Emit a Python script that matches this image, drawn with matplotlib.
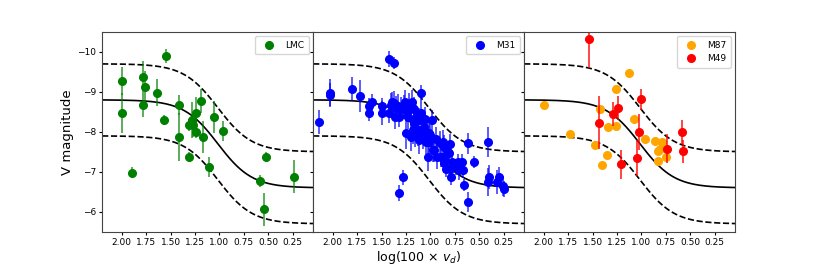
import numpy as np
import matplotlib
matplotlib.use("Agg")
import matplotlib.pyplot as plt

# LMC clusters
lmc_x = [2.00, 2.00, 1.89, 1.78, 1.76, 1.78, 1.64, 1.57, 1.55, 1.41, 1.41, 1.31, 1.31,
         1.28, 1.27, 1.24, 1.24, 1.19, 1.17, 1.11, 1.06, 0.96, 0.58, 0.52, 0.54, 0.24]
lmc_v = [-9.28, -8.48, -6.98, -9.38, -9.13, -8.68, -8.98, -8.29, -9.89, -8.68, -7.88, -7.38, -8.18,
         -8.29, -8.18, -8.48, -7.99, -8.78, -7.88, -7.12, -8.38, -8.03, -6.78, -7.38, -6.06, -6.88]
lmc_err = [0.35, 0.5, 0.13, 0.4, 0.4, 0.3, 0.33, 0.12, 0.18, 0.25, 0.6, 0.12, 0.15,
           0.45, 0.3, 0.4, 0.15, 0.3, 0.4, 0.25, 0.4, 0.25, 0.15, 0.12, 0.42, 0.42]

# M31 clusters
m31_x = [2.14, 2.03, 2.03, 1.80, 1.72, 1.63, 1.60, 1.63, 1.42, 1.37, 1.50, 1.50, 1.42, 1.40,
         1.37, 1.36, 1.33, 1.32, 1.30, 1.28, 1.32, 1.26, 1.25, 1.23, 1.22, 1.20, 1.19, 1.17,
         1.17, 1.15, 1.13, 1.12, 1.10, 1.10, 1.08, 1.06, 1.05, 1.03, 1.01, 1.00, 0.98, 0.97,
         0.94, 0.93, 0.90, 0.87, 0.86, 0.85, 0.84, 0.81, 0.80, 0.79, 0.78, 0.72, 0.71, 0.68,
         0.67, 0.66, 0.62, 0.62, 0.55, 0.41, 0.41, 0.40, 0.32, 0.30, 0.26, 0.25,
         1.39, 1.35, 1.27, 1.24, 1.18, 1.16, 1.12, 1.07, 1.04, 1.01, 0.96, 0.89, 0.86, 0.82,
         0.80, 0.74]
m31_v = [-8.25, -8.98, -8.92, -9.06, -8.90, -8.64, -8.75, -8.46, -9.81, -9.71, -8.64, -8.46, -8.46, -8.67,
         -8.73, -8.38, -8.64, -8.36, -8.56, -6.86, -6.46, -8.75, -7.96, -8.38, -8.67, -7.88, -8.75, -8.56,
         -8.21, -8.38, -8.04, -7.79, -8.96, -8.46, -7.92, -8.33, -7.75, -7.38, -7.96, -7.92, -8.29, -7.54,
         -7.83, -7.38, -7.71, -7.75, -7.63, -7.29, -7.08, -7.46, -7.08, -6.88, -7.25, -7.25, -7.04, -7.25,
         -7.04, -6.67, -7.71, -6.25, -7.25, -7.75, -6.75, -6.86, -6.75, -6.86, -6.64, -6.56,
         -8.75, -8.60, -8.62, -8.50, -8.04, -7.92, -8.30, -8.13, -7.96, -7.75, -7.54, -7.38, -7.21, -7.50,
         -7.70, -7.13]
m31_err = [0.3, 0.33, 0.3, 0.3, 0.4, 0.2, 0.2, 0.2, 0.2, 0.15, 0.2, 0.3, 0.25, 0.3,
           0.3, 0.3, 0.3, 0.25, 0.3, 0.18, 0.2, 0.3, 0.4, 0.3, 0.3, 0.35, 0.3, 0.3,
           0.35, 0.3, 0.4, 0.35, 0.2, 0.3, 0.35, 0.3, 0.3, 0.35, 0.3, 0.3, 0.25, 0.3,
           0.3, 0.3, 0.3, 0.3, 0.3, 0.25, 0.2, 0.25, 0.2, 0.2, 0.25, 0.2, 0.25, 0.2,
           0.2, 0.15, 0.27, 0.25, 0.15, 0.38, 0.35, 0.3, 0.3, 0.25, 0.25, 0.2,
           0.25, 0.3, 0.3, 0.25, 0.35, 0.3, 0.3, 0.3, 0.3, 0.3, 0.3, 0.25, 0.25, 0.25,
           0.25, 0.2]

# M87 (no errors)
m87_x = [2.00, 1.73, 1.48, 1.42, 1.40, 1.35, 1.34, 1.26, 1.26, 1.13, 1.08, 0.96,
         0.86, 0.83, 0.83, 0.79, 0.81, 0.75]
m87_v = [-8.68, -7.95, -7.66, -8.58, -7.17, -7.43, -8.12, -9.07, -8.14, -9.48, -8.33, -7.82,
         -7.76, -7.51, -7.26, -7.75, -7.58, -7.38]

# M49
m49_x = [1.54, 1.43, 1.29, 1.24, 1.21, 1.05, 1.03, 1.01, 0.74, 0.59, 0.58]
m49_v = [-10.32, -8.23, -8.44, -8.60, -7.19, -7.35, -7.99, -8.81, -7.58, -7.99, -7.51]
m49_err = [0.73, 0.67, 0.3, 0.3, 0.36, 0.45, 0.45, 0.27, 0.37, 0.3, 0.28]

# logistic model: bright / faint plateau, centre, width, envelope offset
v_bright = -8.8
v_faint = -6.6
x_mid = 1.015
x_width = 0.175
band = 0.9

xticks = [2.00, 1.75, 1.50, 1.25, 1.00, 0.75, 0.50, 0.25]
yticks = [-10, -9, -8, -7, -6]

xx = np.linspace(2.2, 0.04, 300)
model = v_faint + (v_bright - v_faint) / (1 + np.exp(-(xx - x_mid) / x_width))

fig, axes = plt.subplots(1, 3, figsize=(8.17, 2.65), dpi=100, sharey=True)
fig.subplots_adjust(left=0.125, right=0.9, bottom=0.125, top=0.88, wspace=0)

ms = 5.5
for ax in axes:
    ax.plot(xx, model, color='black', lw=1.2)
    ax.plot(xx, model - band, color='black', lw=1.2, ls='--')
    ax.plot(xx, model + band, color='black', lw=1.2, ls='--')

axes[0].errorbar(lmc_x, lmc_v, yerr=lmc_err, fmt='none', ecolor='green', elinewidth=1.2, alpha=0.75)
axes[0].plot(lmc_x, lmc_v, 'o', color='green', ms=ms, label='LMC')

axes[1].errorbar(m31_x, m31_v, yerr=m31_err, fmt='none', ecolor='blue', elinewidth=1.2, alpha=0.75)
axes[1].plot(m31_x, m31_v, 'o', color='blue', ms=ms, label='M31')

axes[2].plot(m87_x, m87_v, 'o', color='orange', ms=ms, label='M87')
axes[2].errorbar(m49_x, m49_v, yerr=m49_err, fmt='none', ecolor='red', elinewidth=1.2, alpha=0.85)
axes[2].plot(m49_x, m49_v, 'o', color='red', ms=ms, label='M49')

for ax in axes:
    ax.set_xlim(2.2, 0.04)
    ax.set_ylim(-5.5, -10.5)
    ax.set_xticks(xticks)
    ax.set_xticklabels(['%.2f' % t for t in xticks])
    ax.set_yticks(yticks)
    ax.tick_params(labelsize=6.5, length=2.5, width=0.8, pad=2)
    ax.legend(loc='upper right', fontsize=6.5, handletextpad=0.8, borderpad=0.5)
    for s in ax.spines.values():
        s.set_color('#444444')

axes[0].set_ylabel('V magnitude', fontsize=9.5, labelpad=2)
axes[1].set_xlabel(r'log(100 $\times$ $v_d$)', fontsize=9, labelpad=1)

fig.savefig('out.png')
